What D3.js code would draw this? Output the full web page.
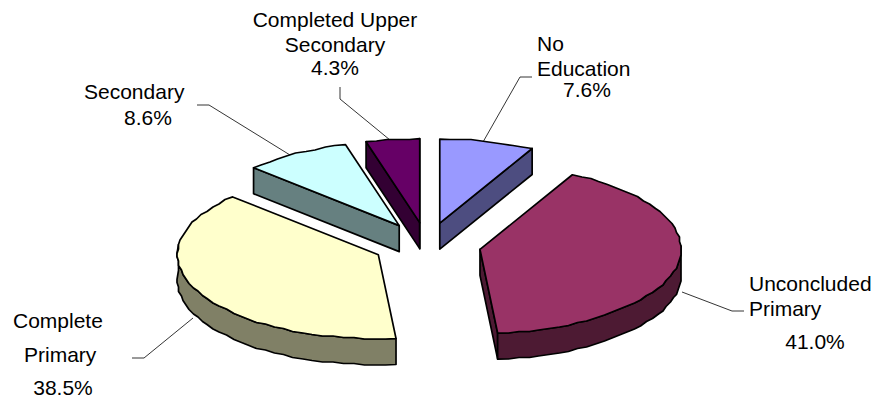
<!DOCTYPE html>
<html><head><meta charset="utf-8">
<style>html,body{margin:0;padding:0;background:#fff}svg{display:block}text{font-family:"Liberation Sans",Arial,sans-serif;font-size:21px;fill:#000}</style>
<script src="https://cdn.jsdelivr.net/npm/d3@7/dist/d3.min.js"></script>
</head><body><script>
const categories = ["No Education","Unconcluded Primary","Complete Primary","Secondary","Completed Upper Secondary"];
const values = [7.6,41.0,38.5,8.6,4.3];
const topColors = ["#9999FF","#993366","#FFFFCC","#CCFFFF","#660066"];
const sideColors = ["#4D4D80","#4D1A33","#808066","#668080","#330033"];
const labelLines = [
 [["No",537,51,"start"],["Education",537,76,"start"],["7.6%",587,97,"middle"]],
 [["Unconcluded",749,291,"start"],["Primary",749,316,"start"],["41.0%",815,349,"middle"]],
 [["Complete",13,328,"start"],["Primary",24,362,"start"],["38.5%",63,395,"middle"]],
 [["Secondary",84,99,"start"],["8.6%",148,125,"middle"]],
 [["Completed Upper",335,27,"middle"],["Secondary",335,52,"middle"],["4.3%",335,75,"middle"]]
];
const leaders = [
 [[483,142],[520,77],[532,77]],
 [[682,292],[732,311],[744,311]],
 [[193,318],[144,358],[132,358]],
 [[290,155],[209,105],[197,105]],
 [[390,140],[340,99],[340,87]]
];
const W=875,H=400,cx=427,cy=245,rx=201,ry=84,explode=54,depth=26,gridStep=1.5;
const svg=d3.select("body").append("svg").attr("width",W).attr("height",H);
const pie=d3.pie().sort(null)(values);
const px=d3.scaleLinear().domain([-1,1]).range([-rx,rx]);
const py=d3.scaleLinear().domain([-1,1]).range([-ry,ry]);
const snap=v=>Math.round(v/gridStep)*gridStep;
const slices=pie.map((p,i)=>{
  const mid=(p.startAngle+p.endAngle)/2;
  const ax=cx+explode*Math.sin(mid), ay=cy-explode*(ry/rx)*Math.cos(mid);
  const n=Math.max(2,Math.round((p.endAngle-p.startAngle)/(Math.PI/60)));
  const arc=d3.range(n+1).map(k=>{
    const a=p.startAngle+(p.endAngle-p.startAngle)*k/n;
    const x=ax+px(Math.sin(a)), y=ay-py(Math.cos(a));
    return (k===0||k===n)?[x,y]:[snap(x),snap(y)];
  });
  return {i,apex:[ax,ay],arc};
});
const line=d3.line();
const shift=q=>[q[0],q[1]+depth];
leaders.forEach(l=>svg.append("path").attr("d",line(l)).attr("fill","none").attr("stroke","#000").attr("stroke-width",0.8));
slices.forEach(s=>{
  const gs=svg.append("g").attr("stroke","#000").attr("stroke-width",1.7).attr("stroke-linejoin","round");
  const side=sideColors[s.i];
  const start=s.arc[0],end=s.arc[s.arc.length-1];
  const quad=(a,b)=>gs.append("path").attr("d",line([a,b,shift(b),shift(a)])+"Z").attr("fill",side);
  if(start[0]<s.apex[0]) quad(s.apex,start);
  if(s.apex[0]<end[0]) quad(end,s.apex);
  const rim=[];
  for(let k=1;k<s.arc.length;k++){
    if(s.arc[k][0]<=s.arc[k-1][0] && s.arc[k][1]+s.arc[k-1][1]>2*s.apex[1]-20){ if(!rim.length) rim.push(s.arc[k-1]); rim.push(s.arc[k]); }
  }
  if(rim.length) gs.append("path").attr("d",line(rim.concat(rim.slice().reverse().map(shift)))+"Z").attr("fill",side);
  gs.append("path").attr("d",line([s.apex,...s.arc])+"Z").attr("fill",topColors[s.i]);
});
labelLines.forEach(ls=>ls.forEach(t=>svg.append("text").attr("x",t[1]).attr("y",t[2]).attr("text-anchor",t[3]).text(t[0])));
</script></body></html>
